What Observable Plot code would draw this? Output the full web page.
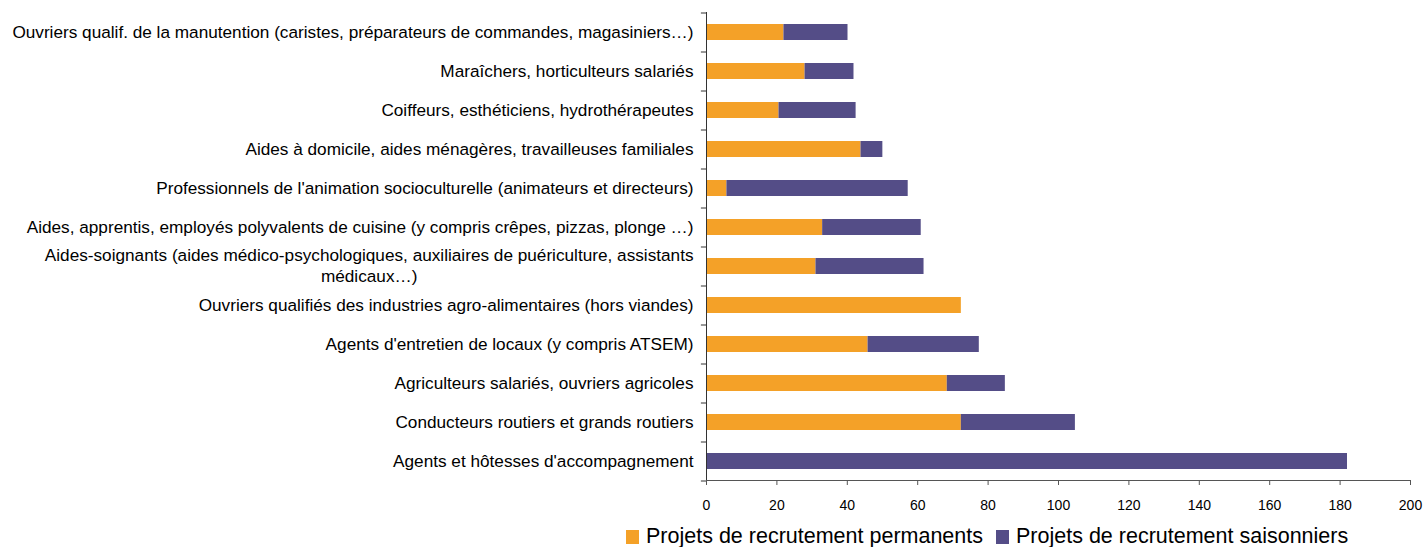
<!DOCTYPE html>
<html>
<head>
<meta charset="utf-8">
<script src="https://cdn.jsdelivr.net/npm/d3@7"></script>
<script src="https://cdn.jsdelivr.net/npm/@observablehq/plot@0.6"></script>
<style>
  body { margin: 0; background: #fff; font-family: "Liberation Sans", Arial, sans-serif; }
  #wrap { position: relative; width: 1424px; height: 547px; overflow: hidden; }
  #legend { position: absolute; top: 524px; left: 626px; display: flex; align-items: center; font-size: 21.5px; color: #000; white-space: nowrap; }
  #legend .sw { display: inline-block; width: 13px; height: 14px; margin-right: 7px; }
  #legend .item { display: flex; align-items: center; margin-right: 13px; }
</style>
</head>
<body>
<div id="wrap">
  <div id="chart"></div>
  <div id="legend"></div>
</div>
<script>
const categories = [
  "Ouvriers qualif. de la manutention (caristes, préparateurs de commandes, magasiniers…)",
  "Maraîchers, horticulteurs salariés",
  "Coiffeurs, esthéticiens, hydrothérapeutes",
  "Aides à domicile, aides ménagères, travailleuses familiales",
  "Professionnels de l'animation socioculturelle (animateurs et directeurs)",
  "Aides, apprentis, employés polyvalents de cuisine (y compris crêpes, pizzas, plonge …)",
  "Aides-soignants (aides médico-psychologiques, auxiliaires de puériculture, assistants médicaux…)",
  "Ouvriers qualifiés des industries agro-alimentaires (hors viandes)",
  "Agents d'entretien de locaux (y compris ATSEM)",
  "Agriculteurs salariés, ouvriers agricoles",
  "Conducteurs routiers et grands routiers",
  "Agents et hôtesses d'accompagnement"
];
const wrappedLabel = ["Aides-soignants (aides médico-psychologiques, auxiliaires de puériculture, assistants", "médicaux…)"];
const permanents  = [22.0, 28.0, 20.6, 43.9, 5.8, 33.0, 31.1, 72.4, 45.9, 68.4, 72.4, 0];
const saisonniers = [18.2, 13.9, 21.9, 6.2, 51.5, 28.0, 30.7, 0, 31.6, 16.5, 32.4, 182.1];
const seriesNames = ["Projets de recrutement permanents", "Projets de recrutement saisonniers"];
const seriesColors = ["#F4A128", "#544D87"];
const xTicks = [0, 20, 40, 60, 80, 100, 120, 140, 160, 180, 200];

const data = [];
categories.forEach((c, i) => {
  data.push({cat: c, series: seriesNames[0], value: permanents[i]});
  data.push({cat: c, series: seriesNames[1], value: saisonniers[i]});
});

const H = 518;
const fontFamily = '"Liberation Sans", Arial, sans-serif';
const labelSize = 17.2;

const ctx = document.createElement("canvas").getContext("2d");
ctx.font = `${labelSize}px ${fontFamily}`;
const w1 = ctx.measureText(wrappedLabel[0]).width;
const labelPad = 13;
const wrapped = categories[6];
const halfStep = 19.5;

const chart = Plot.plot({
  width: 1424,
  height: H,
  marginLeft: 706,
  marginRight: 14,
  marginTop: 12,
  marginBottom: H - 480,
  style: {fontFamily, background: "#fff", color: "#000"},
  x: {domain: [0, 200], ticks: xTicks, label: null},
  y: {domain: categories, paddingInner: 0.59, paddingOuter: 0.295, label: null},
  color: {domain: seriesNames, range: seriesColors},
  marks: [
    Plot.barX(data, Plot.stackX({y: "cat", x: "value", fill: "series", order: seriesNames})),
    Plot.frame({anchor: "left", stroke: "#333"}),
    Plot.frame({anchor: "bottom", stroke: "#555"}),
    Plot.ruleY(categories, {y: d => d, x1: -1.45, x2: 0, dy: halfStep, stroke: "#333"}),
    Plot.ruleY([categories[0]], {y: d => d, x1: -1.45, x2: 0, dy: -halfStep, stroke: "#333"}),
    Plot.axisX({ticks: xTicks, tickSize: 5, tickPadding: 15, fontSize: 14, stroke: "#555", label: null}),
    Plot.axisY({tickSize: 0, tickPadding: labelPad, fontSize: labelSize, label: null,
      tickFormat: d => d === wrapped ? "" : d}),
    Plot.text([wrapped], {y: d => d, x: 0, text: () => wrappedLabel[0], textAnchor: "end", dx: -labelPad, dy: -11, fontSize: labelSize, fill: "#000"}),
    Plot.text([wrapped], {y: d => d, x: 0, text: () => wrappedLabel[1], textAnchor: "middle", dx: -labelPad - w1 / 2, dy: 10, fontSize: labelSize, fill: "#000"})
  ]
});
document.getElementById("chart").appendChild(chart);

const legend = document.getElementById("legend");
seriesNames.forEach((s, i) => {
  const item = document.createElement("span");
  item.className = "item";
  const sw = document.createElement("span");
  sw.className = "sw";
  sw.style.background = seriesColors[i];
  item.appendChild(sw);
  item.appendChild(document.createTextNode(s));
  legend.appendChild(item);
});
</script>
</body>
</html>
